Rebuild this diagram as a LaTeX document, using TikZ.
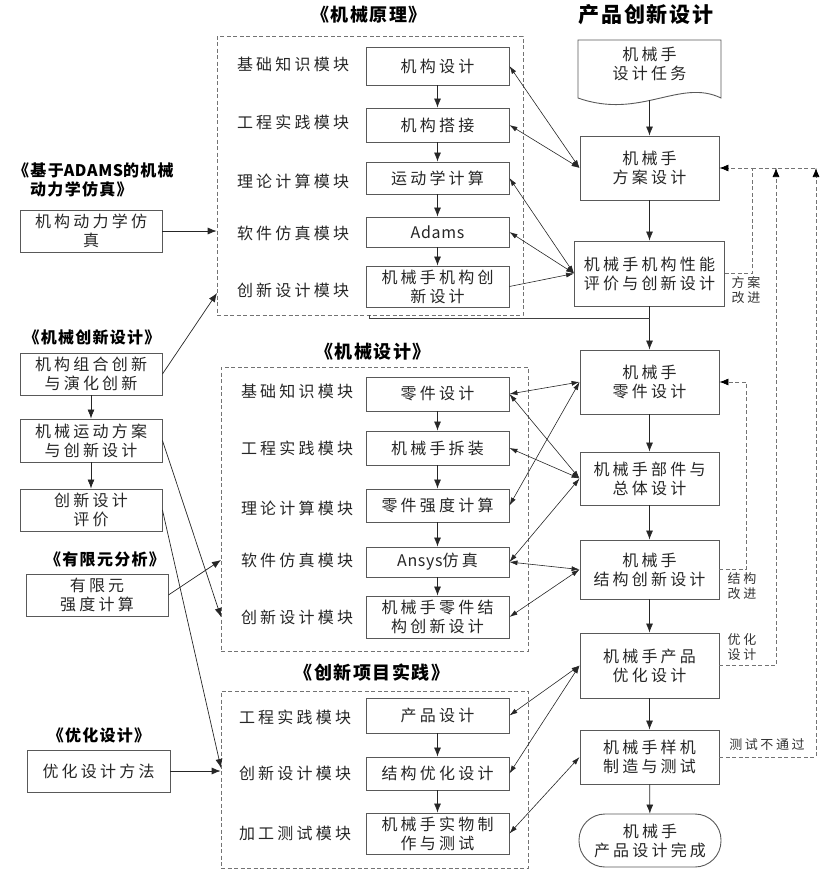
\documentclass[tikz,border=0pt]{standalone}
\usepackage{fontspec}
\setmainfont{Noto Sans CJK SC}
\newfontfamily\cn[LetterSpace=20]{Noto Sans CJK SC}
\newfontfamily\cnt[LetterSpace=8]{Noto Sans CJK SC}
\newcommand\latn[1]{{\addfontfeature{LetterSpace=4}#1}}
\usetikzlibrary{arrows.meta}
\tikzset{
  box/.style={draw=black!65, line width=0.9pt, fill=white, align=center, inner sep=0pt,
    font=\cn\fontsize{16}{19}\selectfont, text=black!85},
  ibox/.style={box, minimum width=143pt},
  rbox/.style={box, minimum width=139pt},
  lbox/.style={box, minimum width=142pt},
  lbl/.style={inner sep=0pt, align=center, font=\cn\fontsize{16}{19}\selectfont, text=black!85},
  ttl/.style={inner sep=0pt, align=center, font=\cnt\bfseries\fontsize{16}{19}\selectfont},
  bigttl/.style={inner sep=0pt, align=center, font=\cnt\bfseries\fontsize{18}{21}\selectfont},
  sml/.style={inner sep=0pt, align=center, font=\cn\fontsize{13}{15}\selectfont, text=black!80},
  dbox/.style={draw=black!55, dash pattern=on 4pt off 2.5pt, line width=0.7pt, inner sep=0pt},
  arr/.style={-{Latex[length=9pt,width=7pt]}, line width=0.7pt, draw=black!85},
  darr/.style={{Latex[length=8pt,width=5pt]}-{Latex[length=8pt,width=5pt]}, line width=0.6pt, draw=black!85},
  sarr/.style={-{Latex[length=8pt,width=5pt]}, line width=0.6pt, draw=black!85},
  plain/.style={line width=0.7pt, draw=black!75},
  fb/.style={draw=black!55, dash pattern=on 4pt off 2.5pt, line width=0.7pt},
  fbarr/.style={fb, -{Latex[length=9pt,width=7pt,black]}},
}
\begin{document}
\begin{tikzpicture}[x=1pt,y=-1pt]
\useasboundingbox (0,0) rectangle (836,873);

% titles
\node[bigttl] (t1) at (369,15) {《机械原理》};
\node[bigttl, font=\cnt\bfseries\fontsize{21}{24}\selectfont] (t2) at (646,15) {产品创新设计};
\node[ttl, align=left, anchor=west] (t3) at (13,180) {《基于\latn{ADAMS}的机械\\\hspace*{17pt}动力学仿真》};
\node[ttl] (t4) at (92,337) {《机械创新设计》};
\node[bigttl] (t5) at (373,352) {《机械设计》};
\node[ttl] (t6) at (105,559) {《有限元分析》};
\node[bigttl] (t7) at (372,673) {《创新项目实践》};
\node[ttl] (t8) at (99,735) {《优化设计》};

% dashed module boxes
\node[dbox, minimum width=306pt, minimum height=279pt] (D1) at (370,175.5) {};
\node[dbox, minimum width=307pt, minimum height=284pt] (D2) at (374.5,509) {};
\node[dbox, minimum width=307pt, minimum height=177pt] (D3) at (374.5,779.5) {};

% module labels
\node[lbl] (m11) at (293,64) {基础知识模块};
\node[lbl] (m12) at (293,122) {工程实践模块};
\node[lbl] (m13) at (293,181) {理论计算模块};
\node[lbl] (m14) at (293,233) {软件仿真模块};
\node[lbl] (m15) at (293,290) {创新设计模块};

\node[lbl] (m21) at (297,391) {基础知识模块};
\node[lbl] (m22) at (297,448) {工程实践模块};
\node[lbl] (m23) at (297,508) {理论计算模块};
\node[lbl] (m24) at (297,560) {软件仿真模块};
\node[lbl] (m25) at (297,617) {创新设计模块};

\node[lbl] (m31) at (295,717) {工程实践模块};
\node[lbl] (m32) at (295,773) {创新设计模块};
\node[lbl] (m33) at (295,833) {加工测试模块};

% inner boxes
\node[ibox, minimum height=38pt] (a1) at (437.5,66) {机构设计};
\node[ibox, minimum height=34pt] (a2) at (437.5,125) {机构搭接};
\node[ibox, minimum height=32pt] (a3) at (437.5,178) {运动学计算};
\node[ibox, minimum height=30pt] (a4) at (437.5,232) {\latn{Adams}};
\node[ibox, minimum height=41pt] (a5) at (437.5,286.5) {机械手机构创\\新设计};

\node[ibox, minimum height=34pt] (b1) at (437.5,394) {零件设计};
\node[ibox, minimum height=34pt] (b2) at (437.5,448) {机械手拆装};
\node[ibox, minimum height=33pt] (b3) at (437.5,505.5) {零件强度计算};
\node[ibox, minimum height=30pt] (b4) at (437.5,562) {\latn{Ansys}仿真};
\node[ibox, minimum height=42pt] (b5) at (437.5,617) {机械手零件结\\构创新设计};

\node[ibox, minimum height=35pt] (c1) at (437.5,715.5) {产品设计};
\node[ibox, minimum height=33pt] (c2) at (437.5,773.5) {结构优化设计};
\node[ibox, minimum height=41pt] (c3) at (437.5,833.5) {机械手实物制\\作与测试};

% right column
\draw[draw=black!65, line width=0.9pt] (578,40) -- (721,40) -- (721,98)
  .. controls (680,78) and (640,120) .. (578,98) -- cycle;
\node[lbl] (r0) at (649.5,64) {机械手\\设计任务};
\coordinate (r0b) at (649.5,100);
\node[rbox, minimum height=64pt] (r1) at (649.5,168) {机械手\\方案设计};
\node[box, minimum width=150pt, minimum height=65pt] (r2) at (649.5,273.5) {机械手机构性能\\评价与创新设计};
\node[rbox, minimum height=64pt] (r3) at (649.5,382) {机械手\\零件设计};
\node[rbox, minimum height=53pt] (r4) at (649.5,478.5) {机械手部件与\\总体设计};
\node[rbox, minimum height=59pt] (r5) at (649.5,569.5) {机械手\\结构创新设计};
\node[rbox, minimum height=65pt] (r6) at (649.5,665.5) {机械手产品\\优化设计};
\node[rbox, minimum height=54pt] (r7) at (649.5,757) {机械手样机\\制造与测试};
\node[box, minimum width=142pt, minimum height=53pt, rounded corners=26pt] (r8) at (650,840.5) {机械手\\产品设计完成};

% left column
\node[lbox, minimum height=42pt] (l1) at (91,231) {机构动力学仿\\真};
\node[lbox, minimum height=42pt] (l2) at (91,374) {机构组合创新\\与演化创新};
\node[lbox, minimum height=43pt] (l3) at (91,440.5) {机械运动方案\\与创新设计};
\node[lbox, minimum height=42pt] (l4) at (91,510) {创新设计\\评价};
\node[lbox, minimum height=42pt] (l5) at (97,595) {有限元\\强度计算};
\node[lbox, minimum height=42pt, minimum width=143pt] (l6) at (98.5,771) {优化设计方法};

% main flow
\draw[arr] (r0b) -- (r1.north);
\draw[arr] (r1) -- (r2);
\draw[arr] (r2) -- (r3);
\draw[arr] (r3) -- (r4);
\draw[arr] (r4) -- (r5);
\draw[arr] (r5) -- (r6);
\draw[arr] (r6) -- (r7);
\draw[arr] (r7) -- (r8);
\coordinate (j0) at (369,315);
\coordinate (j1) at (649.5,318);
\draw[plain] (j0) |- (j1);

% inner chains
\draw[arr] (a1) -- (a2);
\draw[arr] (a2) -- (a3);
\draw[arr] (a3) -- (a4);
\draw[arr] (a4) -- (a5);
\draw[arr] (b1) -- (b2);
\draw[arr] (b2) -- (b3);
\draw[arr] (b3) -- (b4);
\draw[arr] (b4) -- (b5);
\draw[arr] (c1) -- (c2);
\draw[arr] (c2) -- (c3);
\draw[arr] (l2) -- (l3);
\draw[arr] (l3) -- (l4);

% cross links
\draw[darr] (a1.east) -- (r1.west);
\draw[darr] (a2.east) -- (r1.west);
\draw[darr] (a3.east) -- (r2.west);
\draw[darr] (a4.east) -- (r2.west);
\draw[sarr] (a5.east) -- (r2.west);

\draw[darr] (b1.east) -- (r3.west);
\draw[darr] (b1.east) -- (r4.west);
\draw[darr] (b2.east) -- (r4.west);
\draw[darr] (b3.east) -- (r3.west);
\draw[darr] (b4.east) -- (r4.west);
\draw[darr] (b4.east) -- (r5.west);
\draw[darr] (b5.east) -- (r5.west);

\draw[darr] (c1.east) -- (r6.west);
\draw[darr] (c2.east) -- (r6.west);
\draw[darr] (c3.east) -- (r7.west);

% left inputs
\coordinate (p1) at (217,293);
\coordinate (p2) at (221,617);
\coordinate (p3) at (221,768);
\coordinate (p4) at (221,560);
\draw[arr] (l1.east) -- (l1.east -| D1.west);
\draw[arr] (l2.east) -- (p1);
\draw[arr] (l3.east) -- (p2);
\draw[arr] (l4.east) -- (p3);
\draw[arr] (l5.east) -- (p4);
\draw[arr] (l6.east) -- (l6.east -| D3.west);

% feedback loops
\coordinate (k1) at (752,168);
\coordinate (k2) at (776,168);
\coordinate (k3) at (816,168);
\coordinate (k4) at (746,382);
\draw[fbarr] (r2.east) -| (k1) -- (r1.east);
\draw[fb] (k1) -- (k3);
\draw[fbarr] (r6.east) -| (k2);
\draw[fbarr] (r7.east) -| (k3);
\draw[fbarr] (r5.east) -| (k4) -- (r3.east);

\node[sml] (s1) at (746,290) {方案\\改进};
\node[sml] (s2) at (742,586) {结构\\改进};
\node[sml] (s3) at (742,647) {优化\\设计};
\node[sml] (s4) at (767,745) {测试不通过};
\end{tikzpicture}
\end{document}
